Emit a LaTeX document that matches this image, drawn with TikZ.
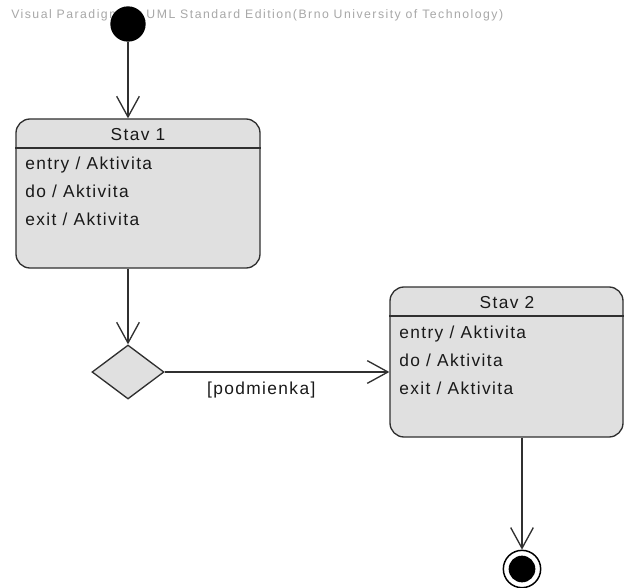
\documentclass[tikz,border=0pt]{standalone}
\usepackage{fontspec}
\setmainfont{Liberation Sans}
\newfontfamily\bodyfont{Liberation Sans}[LetterSpace=8]
\newfontfamily\wmfont{Liberation Sans}[LetterSpace=12]
\usetikzlibrary{shapes.geometric,arrows.meta}
\definecolor{statefill}{HTML}{E0E0E0}
\definecolor{linec}{HTML}{303030}
\definecolor{wmgray}{HTML}{A8A8A8}
\begin{document}
\begin{tikzpicture}[x=0.75pt,y=-0.75pt,
  state/.style={draw=linec, fill=statefill, rounded corners=10.5pt, line width=1pt, inner sep=0},
  lbl/.style={font=\bodyfont\fontsize{13}{15}\selectfont, inner sep=0, text=black!90},
  conn/.style={draw=linec, line width=1pt, -{Straight Barb[length=15.5pt,width=17pt,line width=1pt]}},
  sep/.style={draw=linec, line width=1pt}]
\useasboundingbox (0,0) rectangle (624,588);
\fill[white] (0,0) rectangle (624,588);

% watermark
\node[font=\wmfont\fontsize{9.2}{11}\selectfont, text=wmgray, anchor=west, inner sep=0] (wm) at (11,15)
  {Visual Paradigm for UML Standard Edition(Brno University of Technology)};

% initial state
\node[circle, fill=black, minimum size=26.5pt, inner sep=0] (init) at (128,24) {};

% Stav 1
\node[state, minimum width=183pt, minimum height=111.75pt] (s1) at (138,193.5) {};
\draw[sep] (s1.west |- 0,148) -- (s1.east |- 0,148);
\node[lbl, anchor=base] (s1t) at (138,140.5) {Stav 1};
\node[lbl, anchor=base west] (s1a) at (25,169.5) {entry / Aktivita};
\node[lbl, anchor=base west] (s1b) at (25,197.5) {do / Aktivita};
\node[lbl, anchor=base west] (s1c) at (25,225) {exit / Aktivita};

% decision
\node[diamond, draw=linec, fill=statefill, line width=1pt, minimum width=54pt, minimum height=40.5pt, inner sep=0] (dia) at (128,372) {};

% Stav 2
\node[state, minimum width=174.75pt, minimum height=112.5pt] (s2) at (506.5,362) {};
\draw[sep] (s2.west |- 0,316) -- (s2.east |- 0,316);
\node[lbl, anchor=base] (s2t) at (507,308.5) {Stav 2};
\node[lbl, anchor=base west] (s2a) at (399,338.5) {entry / Aktivita};
\node[lbl, anchor=base west] (s2b) at (399,366) {do / Aktivita};
\node[lbl, anchor=base west] (s2c) at (399,394) {exit / Aktivita};

% final state
\node[circle, draw=black, line width=1.1pt, minimum size=28pt, inner sep=0] (fin) at (522,569) {};
\node[circle, fill=black, minimum size=20pt, inner sep=0] (finc) at (fin.center) {};

% connectors
\draw[conn] (init.south) -- (init.south |- s1.north);
\draw[conn] (dia.north |- s1.south) -- (dia.north);
\draw[conn] (dia.east) -- (s2.west |- dia.east)
  node[lbl, pos=0.43, below=7pt] (cond) {[podmienka]};
\draw[conn] (fin.north |- s2.south) -- (fin.north);
\end{tikzpicture}
\end{document}
